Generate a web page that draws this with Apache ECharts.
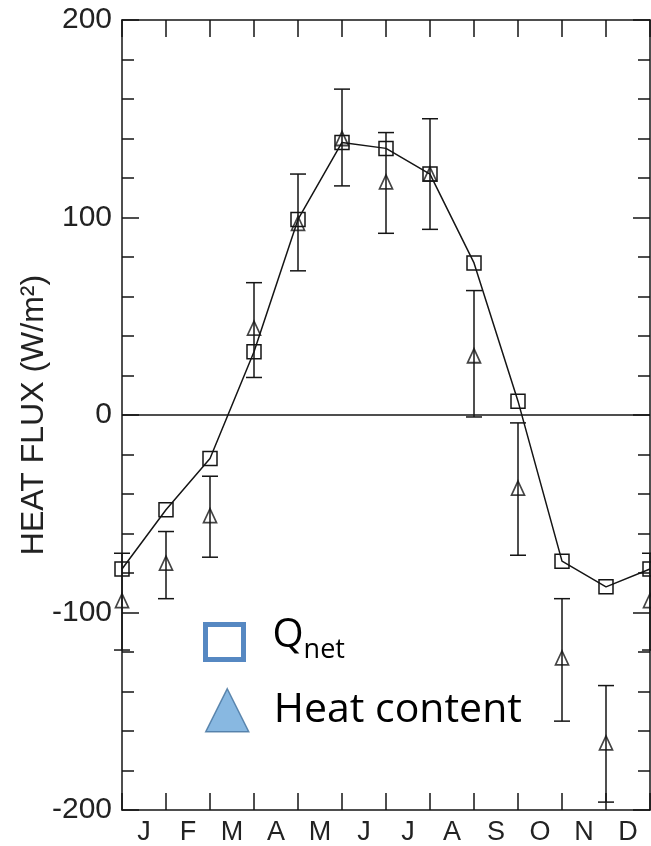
<!DOCTYPE html>
<html>
<head>
<meta charset="utf-8">
<script src="https://cdn.jsdelivr.net/npm/echarts@6/dist/echarts.min.js"></script>
<style>
  html, body { margin: 0; padding: 0; background: #fff; }
  #chart { width: 651px; height: 846px; }
</style>
</head>
<body>
<div id="chart"></div>
<script>
// month labels sit between the ticks, points sit on the ticks (0..12, Jan repeated at 12)
const months = ['J', 'F', 'M', 'A', 'M', 'J', 'J', 'A', 'S', 'O', 'N', 'D'];
const pos = [0, 1, 2, 3, 4, 5, 6, 7, 8, 9, 10, 11, 12];
const qnet = [-78, -48, -22, 32, 99, 138, 135, 122, 77, 7, -74, -87, -78];
const heat = [-94, -75, -51, 44, 97, 140, 118, 122, 30, -37, -123, -166, -94];
const heatHi = [-70, -59, -31, 67, 122, 165, 143, 150, 63, -4, -93, -137, -70];
const heatLo = [-119, -93, -72, 19, 73, 116, 92, 94, -1, -71, -155, -196, -119];

const ink = '#151515';
const font = 'Liberation Sans';

const chart = echarts.init(document.getElementById('chart'));

const yBase = {
  type: 'value',
  min: -200,
  max: 200,
  interval: 100,
  axisLine: { show: true, lineStyle: { color: ink, width: 1.5 } },
  axisTick: { show: true, inside: true, length: 17, lineStyle: { color: ink, width: 1.5 } },
  minorTick: { show: true, splitNumber: 5, length: 12, lineStyle: { color: ink, width: 1.5 } },
  splitLine: { show: false }
};

const option = {
  backgroundColor: '#fff',
  animation: false,
  grid: { left: 122, right: 1, top: 20, bottom: 36 },
  legend: [
    {
      data: ['Qnet'],
      left: 198, top: 611,
      itemWidth: 38, itemHeight: 35,
      icon: 'rect',
      itemStyle: { color: '#fff', borderColor: '#5688c2', borderWidth: 5 },
      formatter: () => '{q|Q}{s|net}',
      textStyle: {
        padding: [0, 0, 0, 24],
        rich: {
          q: { fontFamily: 'Open Sans', fontSize: 40, color: '#000', lineHeight: 44, padding: [0, 0, 12, 0] },
          s: { fontFamily: 'Open Sans', fontSize: 27, color: '#000', lineHeight: 28, verticalAlign: 'bottom' }
        }
      }
    },
    {
      data: ['Heat content'],
      left: 200, top: 683,
      itemWidth: 43, itemHeight: 43,
      icon: 'triangle',
      itemStyle: { color: '#6aa6d9', borderColor: '#41719c', borderWidth: 1.5 },
      textStyle: { fontFamily: 'Open Sans', fontSize: 41, color: '#000', padding: [0, 0, 0, 20] }
    }
  ],
  xAxis: [
    {
      type: 'category',
      data: months,
      position: 'bottom',
      boundaryGap: true,
      axisLine: { show: true, onZero: false, lineStyle: { color: ink, width: 1.5 } },
      axisTick: { show: true, inside: true, length: 17, lineStyle: { color: ink, width: 1.5 } },
      axisLabel: { fontFamily: font, fontSize: 27, color: '#222', margin: 9 },
      splitLine: { show: false }
    },
    {
      type: 'value',
      position: 'top',
      min: 0,
      max: 12,
      interval: 1,
      axisLine: { show: true, onZero: false, lineStyle: { color: ink, width: 1.5 } },
      axisTick: { show: true, inside: true, length: 17, lineStyle: { color: ink, width: 1.5 } },
      axisLabel: { show: false },
      splitLine: { show: false }
    }
  ],
  yAxis: [
    Object.assign({}, yBase, {
      position: 'left',
      name: 'HEAT FLUX (W/m²)',
      nameLocation: 'middle',
      nameRotate: 90,
      nameGap: 72,
      nameMoveOverlap: false,
      nameTextStyle: { fontFamily: font, fontSize: 32, color: '#222' },
      axisLabel: { fontFamily: font, fontSize: 30, color: '#222', margin: 10 }
    }),
    Object.assign({}, yBase, {
      position: 'right',
      axisLabel: { show: false }
    })
  ],
  series: [
    {
      name: 'Heat content error',
      type: 'custom',
      xAxisIndex: 1,
      yAxisIndex: 0,
      data: pos.map((x, i) => [x, heatLo[i], heatHi[i]]),
      renderItem: function (params, api) {
        const lo = api.coord([api.value(0), api.value(1)]);
        const hi = api.coord([api.value(0), api.value(2)]);
        const half = 8;
        const style = { stroke: ink, lineWidth: 1.5 };
        return {
          type: 'group',
          children: [
            { type: 'line', shape: { x1: lo[0], y1: lo[1], x2: hi[0], y2: hi[1] }, style: style },
            { type: 'line', shape: { x1: lo[0] - half, y1: lo[1], x2: lo[0] + half, y2: lo[1] }, style: style },
            { type: 'line', shape: { x1: hi[0] - half, y1: hi[1], x2: hi[0] + half, y2: hi[1] }, style: style }
          ]
        };
      },
      z: 2
    },
    {
      name: 'Qnet',
      type: 'line',
      xAxisIndex: 1,
      yAxisIndex: 0,
      data: pos.map((x, i) => [x, qnet[i]]),
      symbol: 'rect',
      symbolSize: 14,
      showAllSymbol: true,
      lineStyle: { color: ink, width: 1.5 },
      itemStyle: { color: 'rgba(255,255,255,0)', borderColor: ink, borderWidth: 1.5 },
      markLine: {
        silent: true,
        symbol: 'none',
        label: { show: false },
        lineStyle: { color: ink, width: 1.5, type: 'solid' },
        data: [{ yAxis: 0 }]
      },
      z: 3
    },
    {
      name: 'Heat content',
      type: 'scatter',
      xAxisIndex: 1,
      yAxisIndex: 0,
      data: pos.map((x, i) => [x, heat[i]]),
      symbol: 'triangle',
      symbolSize: [13, 14],
      itemStyle: { color: 'rgba(255,255,255,0)', borderColor: ink, borderWidth: 1.7 },
      z: 3
    }
  ]
};

chart.setOption(option);
</script>
</body>
</html>
